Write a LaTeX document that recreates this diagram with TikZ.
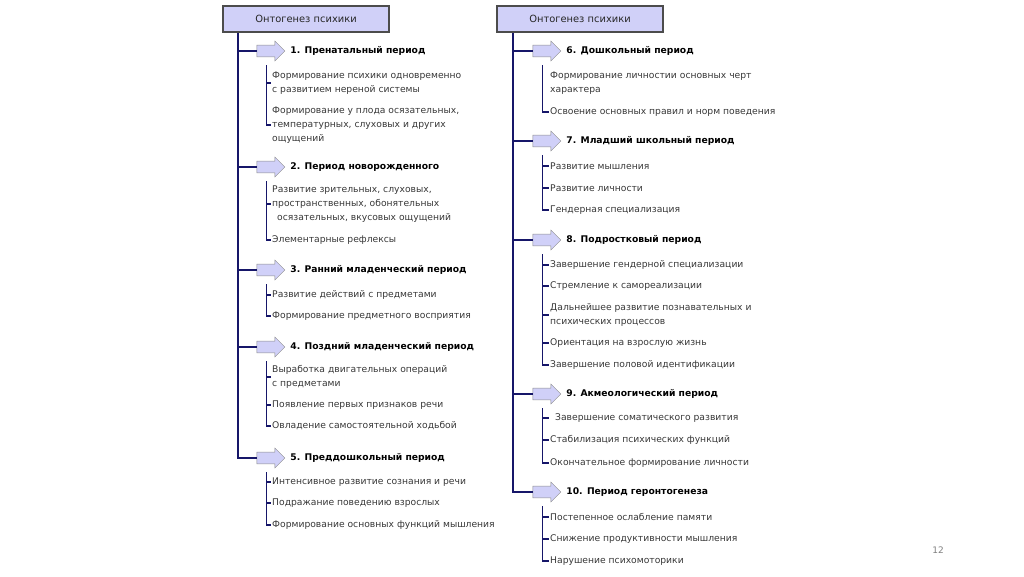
\documentclass[tikz,border=0pt]{standalone}
\usepackage{fontspec}
\setmainfont{DejaVu Sans}
\usetikzlibrary{shapes.arrows, positioning, calc}
\definecolor{navy}{RGB}{22,22,105}
\definecolor{lavender}{RGB}{208,208,248}
\definecolor{itemgray}{RGB}{55,55,55}
\tikzstyle{title} = [rectangle, draw=black!70, line width=2.2pt, fill=lavender, minimum width=166, minimum height=26, font=\fontsize{9.9}{11}\selectfont, text=black!85]
\tikzstyle{period_arrow} = [single arrow, draw=black!45, fill=lavender, minimum height=28, minimum width=20, inner sep=5.5pt, single arrow head extend=4pt]
\tikzstyle{period} = [anchor=west, font=\fontsize{9.2}{11}\selectfont\bfseries, text=black, inner sep=1pt]
\tikzstyle{item} = [anchor=west, align=left, font=\fontsize{9.2}{14}\selectfont, text=itemgray, inner sep=1pt]
\tikzstyle{trunk} = [navy, line width=1.9pt]
\tikzstyle{twig} = [navy, line width=1.5pt]

\begin{document}
\begin{tikzpicture}[x=1pt, y=-1pt]

    \useasboundingbox (0,0) rectangle (1024,576);

    % left column
    \node (title1) [title] at (306, 19) {Онтогенез психики};
    \coordinate (spine1) at ($(title1.south west)+(16,0)$);

    \node (a1) [period_arrow] at (268, 51) {};
    \node (a2) [period_arrow] at (268, 167) {};
    \node (a3) [period_arrow] at (268, 270) {};
    \node (a4) [period_arrow] at (268, 347) {};
    \node (a5) [period_arrow] at (268, 458) {};

    \node (p1) [period] at ($(a1.east)+(4,0)$) {1. Пренатальный период};
    \node (p2) [period] at ($(a2.east)+(4,0)$) {2. Период новорожденного};
    \node (p3) [period] at ($(a3.east)+(4,0)$) {3. Ранний младенческий период};
    \node (p4) [period] at ($(a4.east)+(4,0)$) {4. Поздний младенческий период};
    \node (p5) [period] at ($(a5.east)+(4,0)$) {5. Преддошкольный период};

    \node (i11) [item] at (271, 83) {Формирование психики одновременно\\с развитием нереной системы};
    \node (i12) [item] at (271, 125) {Формирование у плода осязательных,\\температурных, слуховых и других\\ощущений};
    \node (i21) [item] at (271, 204) {Развитие зрительных, слуховых,\\пространственных, обонятельных\\\hspace*{5pt}осязательных, вкусовых ощущений};
    \node (i22) [item] at (271, 240) {Элементарные рефлексы};
    \node (i31) [item] at (271, 295) {Развитие действий с предметами};
    \node (i32) [item] at (271, 316) {Формирование предметного восприятия};
    \node (i41) [item] at (271, 377) {Выработка двигательных операций\\с предметами};
    \node (i42) [item] at (271, 405) {Появление первых признаков речи};
    \node (i43) [item] at (271, 426) {Овладение самостоятельной ходьбой};
    \node (i51) [item] at (271, 482) {Интенсивное развитие сознания и речи};
    \node (i52) [item] at (271, 503) {Подражание поведению взрослых};
    \node (i53) [item] at (271, 525) {Формирование основных функций мышления};

    \draw [trunk] (spine1) |- (a5.west);
    \draw [trunk] (spine1 |- a1) -- (a1.west);
    \draw [trunk] (spine1 |- a2) -- (a2.west);
    \draw [trunk] (spine1 |- a3) -- (a3.west);
    \draw [trunk] (spine1 |- a4) -- (a4.west);

    \coordinate (s1) at ($(a1.west)+(10,14)$);
    \coordinate (s2) at ($(a2.west)+(10,14)$);
    \coordinate (s3) at ($(a3.west)+(10,14)$);
    \coordinate (s4) at ($(a4.west)+(10,14)$);
    \coordinate (s5) at ($(a5.west)+(10,14)$);

    \draw [twig] (s1) |- (i12.west);
    \draw [twig] (s1 |- i11) -- (i11.west);
    \draw [twig] (s2) |- (i22.west);
    \draw [twig] (s2 |- i21) -- (i21.west);
    \draw [twig] (s3) |- (i32.west);
    \draw [twig] (s3 |- i31) -- (i31.west);
    \draw [twig] (s4) |- (i43.west);
    \draw [twig] (s4 |- i41) -- (i41.west);
    \draw [twig] (s4 |- i42) -- (i42.west);
    \draw [twig] (s5) |- (i53.west);
    \draw [twig] (s5 |- i51) -- (i51.west);
    \draw [twig] (s5 |- i52) -- (i52.west);

    % right column
    \node (title2) [title] at (580, 19) {Онтогенез психики};
    \coordinate (spine2) at ($(title2.south west)+(17,0)$);

    \node (a6) [period_arrow] at (544, 51) {};
    \node (a7) [period_arrow] at (544, 141) {};
    \node (a8) [period_arrow] at (544, 240) {};
    \node (a9) [period_arrow] at (544, 394) {};
    \node (a10) [period_arrow] at (544, 492) {};

    \node (p6) [period] at ($(a6.east)+(4,0)$) {6. Дошкольный период};
    \node (p7) [period] at ($(a7.east)+(4,0)$) {7. Младший школьный период};
    \node (p8) [period] at ($(a8.east)+(4,0)$) {8. Подростковый период};
    \node (p9) [period] at ($(a9.east)+(4,0)$) {9. Акмеологический период};
    \node (p10) [period] at ($(a10.east)+(4,0)$) {10. Период геронтогенеза};

    \node (i61) [item] at (549, 83) {Формирование личностии основных черт\\характера};
    \node (i62) [item] at (549, 112) {Освоение основных правил и норм поведения};
    \node (i71) [item] at (549, 166) {Развитие мышления};
    \node (i72) [item] at (549, 188) {Развитие личности};
    \node (i73) [item] at (549, 210) {Гендерная специализация};
    \node (i81) [item] at (549, 265) {Завершение гендерной специализации};
    \node (i82) [item] at (549, 286) {Стремление к самореализации};
    \node (i83) [item] at (549, 315) {Дальнейшее развитие познавательных и\\психических процессов};
    \node (i84) [item] at (549, 343) {Ориентация на взрослую жизнь};
    \node (i85) [item] at (549, 365) {Завершение половой идентификации};
    \node (i91) [item] at (554, 418) {Завершение соматического развития};
    \node (i92) [item] at (549, 440) {Стабилизация психических функций};
    \node (i93) [item] at (549, 463) {Окончательное формирование личности};
    \node (i101) [item] at (549, 517) {Постепенное ослабление памяти};
    \node (i102) [item] at (549, 539) {Снижение продуктивности мышления};
    \node (i103) [item] at (549, 561) {Нарушение психомоторики};

    \draw [trunk] (spine2) |- (a10.west);
    \draw [trunk] (spine2 |- a6) -- (a6.west);
    \draw [trunk] (spine2 |- a7) -- (a7.west);
    \draw [trunk] (spine2 |- a8) -- (a8.west);
    \draw [trunk] (spine2 |- a9) -- (a9.west);

    \coordinate (s6) at ($(a6.west)+(10,14)$);
    \coordinate (s7) at ($(a7.west)+(10,14)$);
    \coordinate (s8) at ($(a8.west)+(10,14)$);
    \coordinate (s9) at ($(a9.west)+(10,14)$);
    \coordinate (s10) at ($(a10.west)+(10,14)$);

    \draw [twig] (s6) |- (i62.west);
    \draw [twig] (s7) |- (i73.west);
    \draw [twig] (s7 |- i71) -- (i71.west);
    \draw [twig] (s7 |- i72) -- (i72.west);
    \draw [twig] (s8) |- (i85.west);
    \draw [twig] (s8 |- i81) -- (i81.west);
    \draw [twig] (s8 |- i82) -- (i82.west);
    \draw [twig] (s8 |- i83) -- (i83.west);
    \draw [twig] (s8 |- i84) -- (i84.west);
    \draw [twig] (s9) |- (i93.west);
    \draw [twig] (s9 |- i91) -- ++(6,0);
    \draw [twig] (s9 |- i92) -- (i92.west);
    \draw [twig] (s10) |- (i103.west);
    \draw [twig] (s10 |- i101) -- (i101.west);
    \draw [twig] (s10 |- i102) -- (i102.west);

    % page number
    \node (pagenum) [font=\fontsize{9}{10}\selectfont, text=black!50] at (938, 550) {12};

\end{tikzpicture}
\end{document}
